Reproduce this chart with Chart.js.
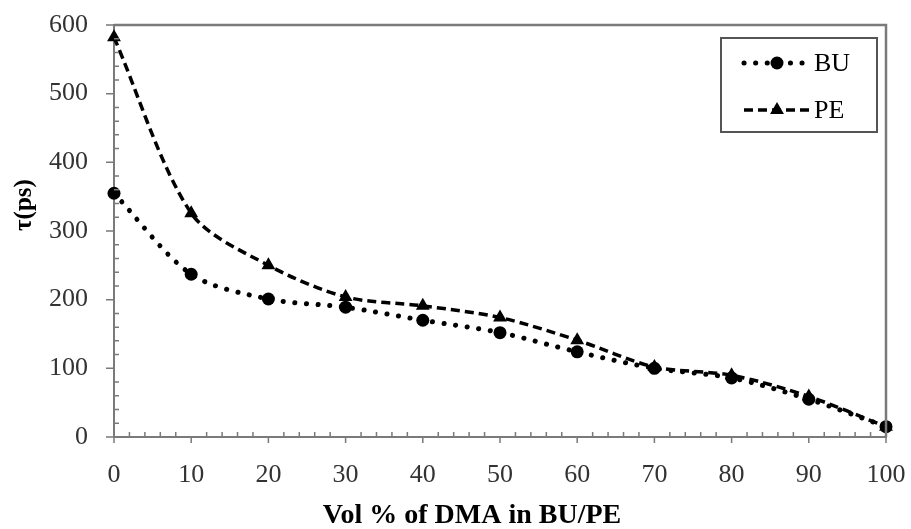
<!DOCTYPE html>
<html>
<head>
<meta charset="utf-8">
<script src="https://cdn.jsdelivr.net/npm/chart.js@4.4.0/dist/chart.umd.min.js"></script>
<style>
  html, body { margin: 0; padding: 0; background: #fff; }
</style>
</head>
<body>
<canvas id="chart" width="911" height="529"></canvas>
<script>
// data
const volPercent = [0, 10, 20, 30, 40, 50, 60, 70, 80, 90, 100];
const tauBU = [355, 237, 201, 189, 170, 152, 124, 100, 86, 55, 15];
const tauPE = [582, 326, 250, 204, 191, 174, 141, 102, 90, 59, 15];
const xTicks = [0, 10, 20, 30, 40, 50, 60, 70, 80, 90, 100];
const yTicks = [0, 100, 200, 300, 400, 500, 600];

const serif = '"Liberation Serif", "Times New Roman", serif';
const axisColor = '#7a7a7a';

// keep tick-label overflow from shrinking the plot area
function noEdgePadding(s) {
    s.paddingLeft = 0;
    s.paddingRight = 0;
    s.paddingTop = 0;
    s.paddingBottom = 0;
}

// minor ticks inside, major ticks outside, plus top/right frame
const frameTicks = {
    id: 'frameTicks',
    afterDraw(chart) {
        const ctx = chart.ctx;
        const a = chart.chartArea;
        const xs = chart.scales.x, ys = chart.scales.y;
        ctx.save();
        ctx.strokeStyle = axisColor;
        ctx.lineWidth = 2.5;
        ctx.beginPath();
        ctx.moveTo(a.left, a.top);
        ctx.lineTo(a.right, a.top);
        ctx.lineTo(a.right, a.bottom);
        ctx.stroke();

        ctx.lineWidth = 1.5;
        ctx.beginPath();
        for (let v = 0; v <= 100; v += 2) {
            const px = xs.getPixelForValue(v);
            if (v % 10 === 0) {
                ctx.moveTo(px, a.bottom);
                ctx.lineTo(px, a.bottom + 6);
            } else {
                ctx.moveTo(px, a.bottom);
                ctx.lineTo(px, a.bottom - 5);
            }
        }
        for (let v = 0; v <= 600; v += 20) {
            const py = ys.getPixelForValue(v);
            if (v % 100 === 0) {
                ctx.moveTo(a.left, py);
                ctx.lineTo(a.left - 8, py);
            } else {
                ctx.moveTo(a.left, py);
                ctx.lineTo(a.left + 5, py);
            }
        }
        ctx.stroke();

        // axis titles
        ctx.fillStyle = '#000';
        ctx.textAlign = 'center';
        ctx.textBaseline = 'middle';
        ctx.font = 'bold 28px ' + serif;
        ctx.fillText('Vol % of DMA in BU/PE', 472, 516);
        ctx.translate(25, 205);
        ctx.rotate(-Math.PI / 2);
        ctx.font = 'bold 25px ' + serif;
        ctx.fillText('τ(ps)', 0, 0);
        ctx.restore();
    }
};

// boxed legend inside the plot
const boxLegend = {
    id: 'boxLegend',
    afterDraw(chart) {
        const ctx = chart.ctx;
        const bx = 721, by = 38, bw = 156, bh = 94;
        ctx.save();
        ctx.fillStyle = '#fff';
        ctx.fillRect(bx, by, bw, bh);
        ctx.strokeStyle = '#555';
        ctx.lineWidth = 2;
        ctx.strokeRect(bx, by, bw, bh);

        chart.data.datasets.forEach((ds, i) => {
            const y = by + 25 + i * 47;
            ctx.strokeStyle = '#000';
            ctx.lineWidth = ds.borderWidth;
            ctx.lineCap = ds.borderCapStyle || 'butt';
            ctx.setLineDash(ds.borderDash);
            ctx.beginPath();
            ctx.moveTo(744, y);
            ctx.lineTo(810, y);
            ctx.stroke();
            ctx.setLineDash([]);
            ctx.fillStyle = '#000';
            Chart.helpers.drawPoint(ctx, { pointStyle: ds.pointStyle, radius: ds.pointRadius, borderWidth: 0, rotation: 0 }, 777, y);
            ctx.font = '26px ' + serif;
            ctx.textAlign = 'left';
            ctx.textBaseline = 'middle';
            ctx.fillText(ds.label, 814, y + 1);
        });
        ctx.restore();
    }
};

new Chart(document.getElementById('chart'), {
    type: 'line',
    data: {
        datasets: [
            {
                label: 'BU',
                data: volPercent.map((x, i) => ({ x: x, y: tauBU[i] })),
                borderColor: '#000',
                borderWidth: 5,
                borderDash: [0.1, 11.5],
                borderCapStyle: 'round',
                tension: 0.3,
                pointStyle: 'circle',
                pointRadius: 6.5,
                pointBackgroundColor: '#000',
                pointBorderWidth: 0,
                fill: false,
                clip: false
            },
            {
                label: 'PE',
                data: volPercent.map((x, i) => ({ x: x, y: tauPE[i] })),
                borderColor: '#000',
                borderWidth: 3.5,
                borderDash: [9, 5],
                borderCapStyle: 'butt',
                tension: 0.3,
                pointStyle: 'triangle',
                pointRadius: 8,
                pointBackgroundColor: '#000',
                pointBorderWidth: 0,
                fill: false,
                clip: false
            }
        ]
    },
    options: {
        responsive: false,
        animation: false,
        layout: { padding: { left: 0, top: 25, right: 25, bottom: 0 } },
        plugins: {
            legend: { display: false },
            tooltip: { enabled: false }
        },
        scales: {
            x: {
                type: 'linear',
                min: 0,
                max: 100,
                afterBuildTicks: s => { s.ticks = xTicks.map(v => ({ value: v })); },
                afterFit: s => { s.height = 92; noEdgePadding(s); },
                grid: { display: false, drawTicks: false },
                border: { display: true, color: axisColor, width: 2 },
                ticks: {
                    color: '#333',
                    font: { family: serif, size: 26 },
                    padding: 23,
                    maxRotation: 0,
                    autoSkip: false
                }
            },
            y: {
                type: 'linear',
                min: 0,
                max: 600,
                afterBuildTicks: s => { s.ticks = yTicks.map(v => ({ value: v })); },
                afterFit: s => { s.width = 114; noEdgePadding(s); },
                grid: { display: false, drawTicks: false },
                border: { display: true, color: axisColor, width: 2 },
                ticks: {
                    color: '#333',
                    font: { family: serif, size: 26 },
                    padding: 26
                }
            }
        }
    },
    plugins: [frameTicks, boxLegend]
});
</script>
</body>
</html>
